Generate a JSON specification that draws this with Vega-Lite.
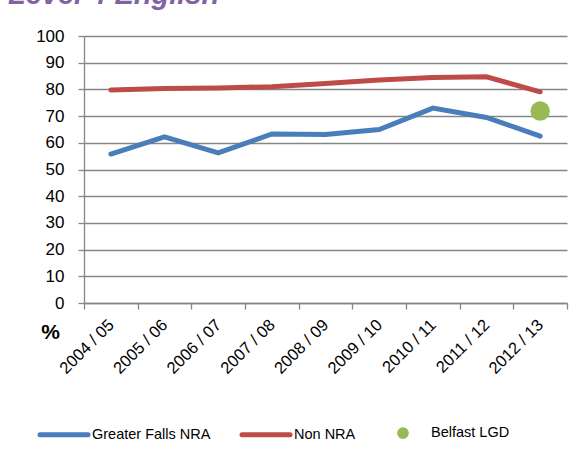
{
  "$schema": "https://vega.github.io/schema/vega-lite/v6.json",
  "autosize": {"type": "none"},
  "width": 483,
  "height": 267,
  "padding": {"left": 84, "top": 36, "right": 15, "bottom": 150},
  "background": "white",
  "title": {
    "text": "Level 4 English",
    "anchor": "start",
    "frame": "group",
    "font": "Liberation Sans",
    "fontSize": 29,
    "fontStyle": "italic",
    "fontWeight": "bold",
    "color": "#8064A2",
    "baseline": "alphabetic",
    "offset": 14,
    "dy": 19.5,
    "dx": -76
  },
  "data": {
    "values": [
      {"year": "2004 / 05", "series": "Greater Falls NRA", "value": 55.8},
      {"year": "2005 / 06", "series": "Greater Falls NRA", "value": 62.2},
      {"year": "2006 / 07", "series": "Greater Falls NRA", "value": 56.2},
      {"year": "2007 / 08", "series": "Greater Falls NRA", "value": 63.3},
      {"year": "2008 / 09", "series": "Greater Falls NRA", "value": 63.1},
      {"year": "2009 / 10", "series": "Greater Falls NRA", "value": 65.0},
      {"year": "2010 / 11", "series": "Greater Falls NRA", "value": 73.0},
      {"year": "2011 / 12", "series": "Greater Falls NRA", "value": 69.5},
      {"year": "2012 / 13", "series": "Greater Falls NRA", "value": 62.5},
      {"year": "2004 / 05", "series": "Non NRA", "value": 79.8},
      {"year": "2005 / 06", "series": "Non NRA", "value": 80.3},
      {"year": "2006 / 07", "series": "Non NRA", "value": 80.5},
      {"year": "2007 / 08", "series": "Non NRA", "value": 81.0},
      {"year": "2008 / 09", "series": "Non NRA", "value": 82.2},
      {"year": "2009 / 10", "series": "Non NRA", "value": 83.5},
      {"year": "2010 / 11", "series": "Non NRA", "value": 84.5},
      {"year": "2011 / 12", "series": "Non NRA", "value": 84.7},
      {"year": "2012 / 13", "series": "Non NRA", "value": 79.1},
      {"year": "2012 / 13", "series": "Belfast LGD", "value": 71.9}
    ]
  },
  "encoding": {
    "x": {
      "field": "year",
      "type": "ordinal",
      "scale": {"type": "band", "paddingInner": 0, "paddingOuter": 0},
      "axis": {
        "title": null,
        "tickBand": "extent",
        "labelAngle": -45,
        "labelAlign": "right",
        "labelBaseline": "middle",
        "labelPadding": 13,
        "labelFont": "Liberation Sans",
        "labelFontSize": 16.5,
        "labelColor": "#000000",
        "domainColor": "#868686",
        "domainWidth": 1.3,
        "tickColor": "#868686",
        "tickWidth": 1.3,
        "tickSize": 6,
        "grid": false
      }
    },
    "y": {
      "field": "value",
      "type": "quantitative",
      "scale": {"domain": [0, 100], "nice": false, "zero": true},
      "axis": {
        "values": [0, 10, 20, 30, 40, 50, 60, 70, 80, 90, 100],
        "title": "%",
        "titleAngle": 0,
        "titleX": -34,
        "titleY": 302,
        "titleAlign": "center",
        "titleBaseline": "alphabetic",
        "titleFont": "Liberation Sans",
        "titleFontSize": 21,
        "titleFontWeight": "bold",
        "titleColor": "#000000",
        "labelFont": "Liberation Sans",
        "labelFontSize": 17,
        "labelColor": "#000000",
        "labelPadding": 14,
        "domainColor": "#868686",
        "domainWidth": 1.3,
        "tickColor": "#868686",
        "tickWidth": 1.3,
        "tickSize": 6,
        "grid": true,
        "gridColor": "#868686",
        "gridWidth": 1.3
      }
    },
    "color": {
      "field": "series",
      "type": "nominal",
      "scale": {
        "domain": ["Greater Falls NRA", "Non NRA", "Belfast LGD"],
        "range": ["#4A7EBB", "#BE4B48", "#98B954"]
      },
      "legend": {
        "title": null,
        "orient": "none",
        "direction": "horizontal",
        "legendX": -46.5,
        "legendY": 370.5,
        "padding": 0,
        "columnPadding": 21,
        "symbolType": "stroke",
        "symbolSize": 2304,
        "symbolStrokeWidth": 5,
        "labelOffset": 1.5,
        "labelFont": "Liberation Sans",
        "labelFontSize": 14.5,
        "labelColor": "#000000",
        "encode": {
          "symbols": {
            "update": {
              "shape": {"signal": "datum.value === 'Belfast LGD' ? 'M -0.14,0 A 0.14,0.14 0 1,0 0.14,0 A 0.14,0.14 0 1,0 -0.14,0 Z' : 'stroke'"},
              "fill": {"signal": "datum.value === 'Belfast LGD' ? '#98B954' : 'transparent'"},
              "stroke": {"signal": "datum.value === 'Belfast LGD' ? '#98B954' : (datum.value === 'Non NRA' ? '#BE4B48' : '#4A7EBB')"},
              "strokeCap": {"value": "round"},
              "opacity": {"value": 1}
            }
          }
        }
      }
    }
  },
  "layer": [
    {
      "transform": [{"filter": "datum.series !== 'Belfast LGD'"}],
      "mark": {"type": "line", "strokeWidth": 5, "strokeCap": "round", "strokeJoin": "miter"}
    },
    {
      "transform": [{"filter": "datum.series === 'Belfast LGD'"}],
      "mark": {"type": "point", "filled": true, "shape": "circle", "size": 380, "opacity": 1}
    }
  ],
  "config": {
    "view": {"stroke": null}
  }
}
